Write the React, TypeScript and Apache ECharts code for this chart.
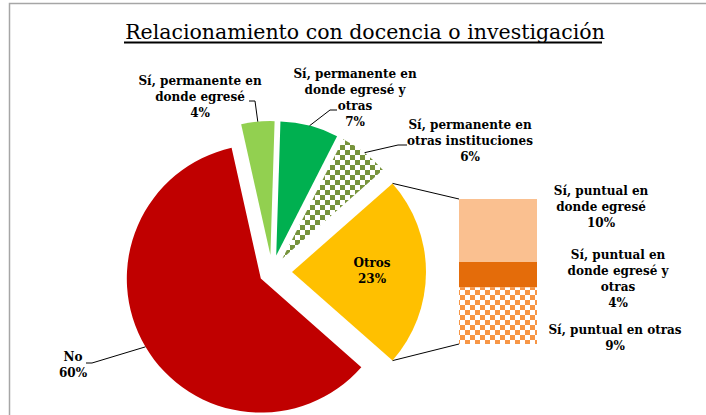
import React, { useEffect, useRef } from 'react';
import * as echarts from 'echarts';

// ---------- data ----------
const TITLE = 'Relacionamiento con docencia o investigación';

const pieNames = [
  'No',
  'Sí, permanente en\ndonde egresé',
  'Sí, permanente en\ndonde egresé y\notras',
  'Sí, permanente en\notras instituciones',
  'Otros',
];
const pieValues = [60, 4, 7, 6, 23];

const barNames = [
  'Sí, puntual en\ndonde egresé',
  'Sí, puntual en\ndonde egresé y\notras',
  'Sí, puntual en otras',
];
const barValues = [10, 4, 9];

// ---------- styles / layout ----------
const FONT = "'DejaVu Serif', serif";
const LABEL_SIZE = 12;
const pieColors = ['#C00000', '#92D050', '#00B050', '#FFFFFF', '#FFC000'];
const pieDecals: (string | null)[] = [null, null, null, '#77933C', null];
const barColors = ['#FAC090', '#E46C0A', '#FFFFFF'];
const barDecals: (string | null)[] = [null, null, '#F79646'];

const CENTER = [272, 272];
const RADIUS = 134;
const EXPLODE = [13, 17, 17, 17, 20];
const PIE_LABEL_POS = [
  [73, 365],
  [200, 97],
  [355, 97.5],
  [470, 141],
  [372, 271],
];
const PIE_LEADER_ELBOWS: (number[][] | null)[] = [
  [[92, 363], [86, 363]],
  [[255, 101], [249, 101]],
  [[330, 110], [337, 110]],
  [[398, 145], [407, 145]],
  null,
];
const BAR_BOX = { left: 459, top: 199, width: 78, height: 145 };
const BAR_LABEL_POS = [
  [601, 207],
  [618, 279],
  [615, 338],
];
const TITLE_CX = 363;
const TITLE_TEXT_X = 360;
const TITLE_HALF_W = 239;

const checker = (color: string) => ({
  symbol: 'rect',
  symbolSize: 1,
  color,
  backgroundColor: '#FFFFFF',
  dashArrayX: [
    [5, 5],
    [0, 5, 5, 0],
  ],
  dashArrayY: [5, 0],
  rotation: 0,
});

export default function App() {
  const ref = useRef<HTMLDivElement>(null);

  useEffect(() => {
    if (!ref.current) return;
    const chart = echarts.init(ref.current, undefined, { renderer: 'svg' });

    const total = pieValues.reduce((a, b) => a + b, 0);
    const otherIdx = pieValues.length - 1;
    let cursor = -(pieValues[otherIdx] / total) * 180; // "Otros" centred on the right
    const toRad = (d: number) => (d * Math.PI) / 180;

    const pieSeries: any[] = [];
    const graphics: any[] = [];
    const geom: { apex: number[]; start: number; end: number; mid: number }[] = [];

    pieValues.forEach((v, i) => {
      const span = (v / total) * 360;
      const start = cursor;
      const end = cursor - span;
      const mid = cursor - span / 2;
      cursor = end;
      const apex = [
        CENTER[0] + EXPLODE[i] * Math.cos(toRad(mid)),
        CENTER[1] - EXPLODE[i] * Math.sin(toRad(mid)),
      ];
      geom.push({ apex, start, end, mid });
      const lp = PIE_LABEL_POS[i];
      pieSeries.push({
        type: 'pie',
        silent: true,
        center: apex,
        radius: [0, RADIUS],
        startAngle: ((start % 360) + 360) % 360,
        clockwise: true,
        avoidLabelOverlap: false,
        emphasis: { disabled: true },
        labelLine: { show: false },
        label: {
          show: true,
          formatter: '{b}\n{c}%',
          fontFamily: FONT,
          fontSize: LABEL_SIZE,
          fontWeight: 'bold',
          lineHeight: 16,
          color: '#000',
        },
        labelLayout: (p: any) =>
          p.dataIndex === 0
            ? { x: lp[0], y: lp[1], align: 'center', verticalAlign: 'middle' }
            : {},
        data: [
          {
            name: pieNames[i],
            value: v,
            itemStyle: {
              color: pieColors[i],
              decal: pieDecals[i] ? checker(pieDecals[i] as string) : undefined,
            },
          },
          {
            name: '',
            value: total - v,
            itemStyle: { color: 'rgba(0,0,0,0)' },
            label: { show: false },
          },
        ],
      });

      const elb = PIE_LEADER_ELBOWS[i];
      if (elb) {
        const arc = [
          apex[0] + RADIUS * Math.cos(toRad(mid)),
          apex[1] - RADIUS * Math.sin(toRad(mid)),
        ];
        graphics.push({
          type: 'polyline',
          silent: true,
          z: 10,
          shape: { points: [arc, ...elb] },
          style: { stroke: '#000', lineWidth: 1, fill: 'none' },
        });
      }
    });

    // connectors from "Otros" slice to the bar
    const og = geom[otherIdx];
    const topCorner = [
      og.apex[0] + RADIUS * Math.cos(toRad(og.start)),
      og.apex[1] - RADIUS * Math.sin(toRad(og.start)),
    ];
    const botCorner = [
      og.apex[0] + RADIUS * Math.cos(toRad(og.end)),
      og.apex[1] - RADIUS * Math.sin(toRad(og.end)),
    ];
    graphics.push(
      {
        type: 'line',
        silent: true,
        shape: { x1: topCorner[0], y1: topCorner[1], x2: BAR_BOX.left, y2: BAR_BOX.top },
        style: { stroke: '#000', lineWidth: 1 },
      },
      {
        type: 'line',
        silent: true,
        shape: {
          x1: botCorner[0],
          y1: botCorner[1],
          x2: BAR_BOX.left,
          y2: BAR_BOX.top + BAR_BOX.height,
        },
        style: { stroke: '#000', lineWidth: 1 },
      }
    );

    // border and title underline
    graphics.push(
      {
        type: 'rect',
        silent: true,
        shape: { x: 9.5, y: 3.5, width: 800, height: 600 },
        style: { fill: 'none', stroke: '#A6A6A6', lineWidth: 1.5 },
      },
      {
        type: 'line',
        silent: true,
        shape: { x1: TITLE_CX - TITLE_HALF_W, y1: 42.5, x2: TITLE_CX + TITLE_HALF_W, y2: 42.5 },
        style: { stroke: '#000', lineWidth: 2 },
      }
    );

    const barTotal = barValues.reduce((a, b) => a + b, 0);
    const barSeries: any[] = [];
    for (let i = barValues.length - 1; i >= 0; i--) {
      const lp = BAR_LABEL_POS[i];
      barSeries.push({
        type: 'bar',
        name: barNames[i],
        stack: 'otros',
        silent: true,
        barWidth: '100%',
        emphasis: { disabled: true },
        itemStyle: {
          color: barColors[i],
          decal: barDecals[i] ? checker(barDecals[i] as string) : undefined,
        },
        label: {
          show: true,
          position: 'inside',
          formatter: '{a}\n{c}%',
          fontFamily: FONT,
          fontSize: LABEL_SIZE,
          fontWeight: 'bold',
          lineHeight: 16,
          color: '#000',
        },
        labelLayout: () => ({ x: lp[0], y: lp[1], align: 'center', verticalAlign: 'middle' }),
        data: [barValues[i]],
      });
    }

    chart.setOption({
      animation: false,
      backgroundColor: '#FFFFFF',
      title: {
        text: TITLE,
        left: TITLE_TEXT_X,
        top: 16,
        textAlign: 'center',
        textStyle: {
          fontFamily: FONT,
          fontSize: 20.5,
          fontWeight: 'normal',
          color: '#000',
        },
      },
      grid: { ...BAR_BOX },
      xAxis: { type: 'category', data: [''], show: false },
      yAxis: { type: 'value', min: 0, max: barTotal, show: false },
      graphic: graphics,
      series: [...pieSeries, ...barSeries],
    });

    return () => chart.dispose();
  }, []);

  return (
    <div
      ref={ref}
      style={{ position: 'fixed', left: 0, top: 0, width: 706, height: 415 }}
    />
  );
}
